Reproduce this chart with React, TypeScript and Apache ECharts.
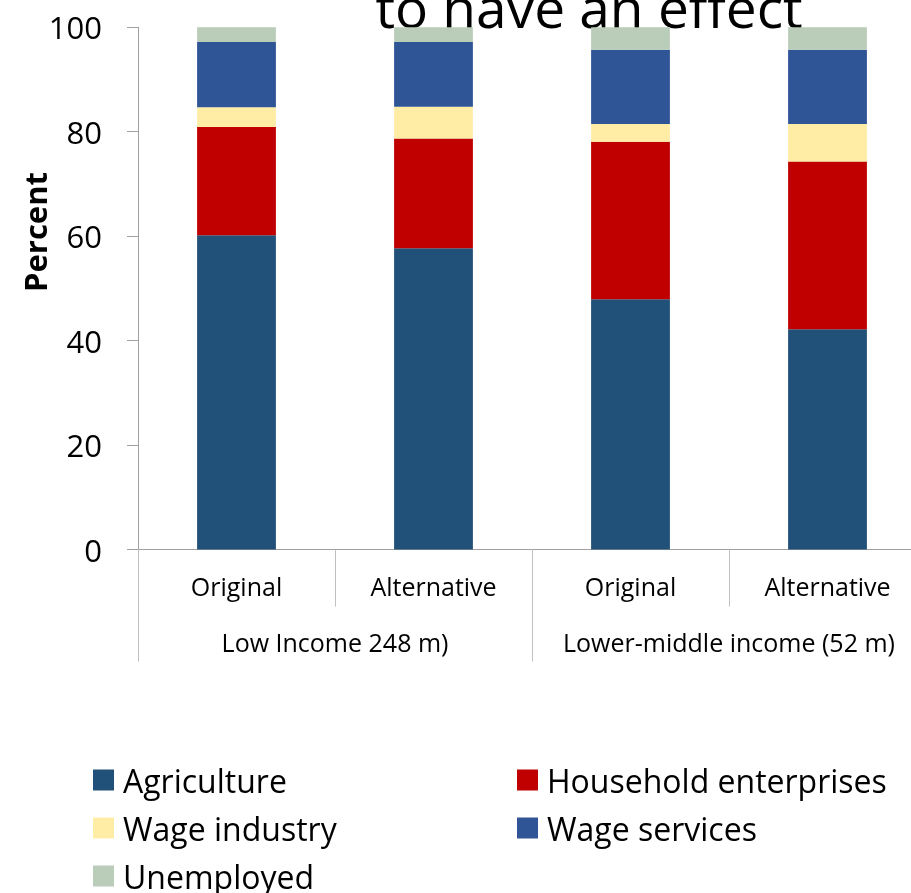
import React, { useEffect, useRef } from "react";
import * as echarts from "echarts";

const categories = ["Original", "Alternative", "Original", "Alternative"];
const groups = ["Low Income 248 m)", "Lower-middle income (52 m)"];
const seriesNames = ["Agriculture", "Household enterprises", "Wage industry", "Wage services", "Unemployed"];
const agriculture = [60.2, 57.7, 47.9, 42.2];
const household = [20.7, 21.0, 30.2, 32.1];
const wageIndustry = [3.8, 6.1, 3.4, 7.2];
const wageServices = [12.5, 12.4, 14.2, 14.2];
const unemployed = [2.8, 2.8, 4.3, 4.3];
const colors = ["#215078", "#C00000", "#FFEDA6", "#2F5597", "#BACDB9"];
const titleText = "to have an effect";
const yAxisTitle = "Percent";

const FONT = "'Open Sans', 'Noto Sans', sans-serif";

export default function App() {
  const ref = useRef<HTMLDivElement>(null);
  useEffect(() => {
    if (!ref.current) return;
    const chart = echarts.init(ref.current, undefined, { renderer: "svg" });
    const values = [agriculture, household, wageIndustry, wageServices, unemployed];
    const legendPos = [
      { left: 93, top: 764 },
      { left: 517, top: 764 },
      { left: 93, top: 812 },
      { left: 517, top: 812 },
      { left: 93, top: 860 },
    ];
    chart.setOption({
      animation: false,
      textStyle: { fontFamily: FONT },
      grid: { left: 138, right: 14, top: 27.3, height: 522.2, containLabel: false },
      graphic: [
        {
          type: "text",
          x: 589,
          y: 6,
          style: {
            text: titleText,
            fontSize: 55,
            fontFamily: FONT,
            fill: "#000",
            textAlign: "center",
            textVerticalAlign: "middle",
          },
        },
        {
          type: "text",
          x: 35,
          y: 232,
          rotation: Math.PI / 2,
          style: {
            text: yAxisTitle,
            fontSize: 31,
            fontWeight: "bold",
            fontFamily: FONT,
            fill: "#000",
            textAlign: "center",
            textVerticalAlign: "middle",
          },
        },
      ],
      legend: seriesNames.map((n, i) => ({
        data: [n],
        left: legendPos[i].left,
        top: legendPos[i].top,
        padding: 0,
        itemWidth: 21,
        itemHeight: 21,
        itemGap: 9,
        icon: "rect",
        selectedMode: false,
        textStyle: { fontSize: 32, color: "#000", fontFamily: FONT, padding: [0, 0, 0, 4] },
      })),
      xAxis: [
        {
          type: "category",
          data: categories,
          position: "bottom",
          axisLine: { show: true, lineStyle: { color: "#A0A0A0", width: 1 } },
          axisTick: { show: true, interval: 0, length: 57, lineStyle: { color: "#BFBFBF" } },
          axisLabel: { interval: 0, margin: 24, fontSize: 25, color: "#000", fontFamily: FONT },
        },
        {
          type: "category",
          data: groups,
          position: "bottom",
          axisLine: { show: false },
          axisTick: { show: true, interval: 0, length: 112, lineStyle: { color: "#BFBFBF" } },
          axisLabel: { interval: 0, margin: 80, fontSize: 25, color: "#000", fontFamily: FONT },
        },
      ],
      yAxis: {
        type: "value",
        min: 0,
        max: 100,
        interval: 20,
        axisLine: { show: true, lineStyle: { color: "#A0A0A0" } },
        axisTick: { show: true, inside: false, length: 11, lineStyle: { color: "#A0A0A0" } },
        splitLine: { show: false },
        axisLabel: { margin: 36, fontSize: 31, color: "#000", fontFamily: FONT },
      },
      series: seriesNames.map((n, i) => ({
        name: n,
        type: "bar",
        stack: "total",
        barWidth: "40%",
        xAxisIndex: 0,
        data: values[i],
        itemStyle: { color: colors[i] },
      })),
    });
    return () => chart.dispose();
  }, []);
  return <div ref={ref} style={{ position: "fixed", left: 0, top: 0, width: 940, height: 893 }} />;
}
